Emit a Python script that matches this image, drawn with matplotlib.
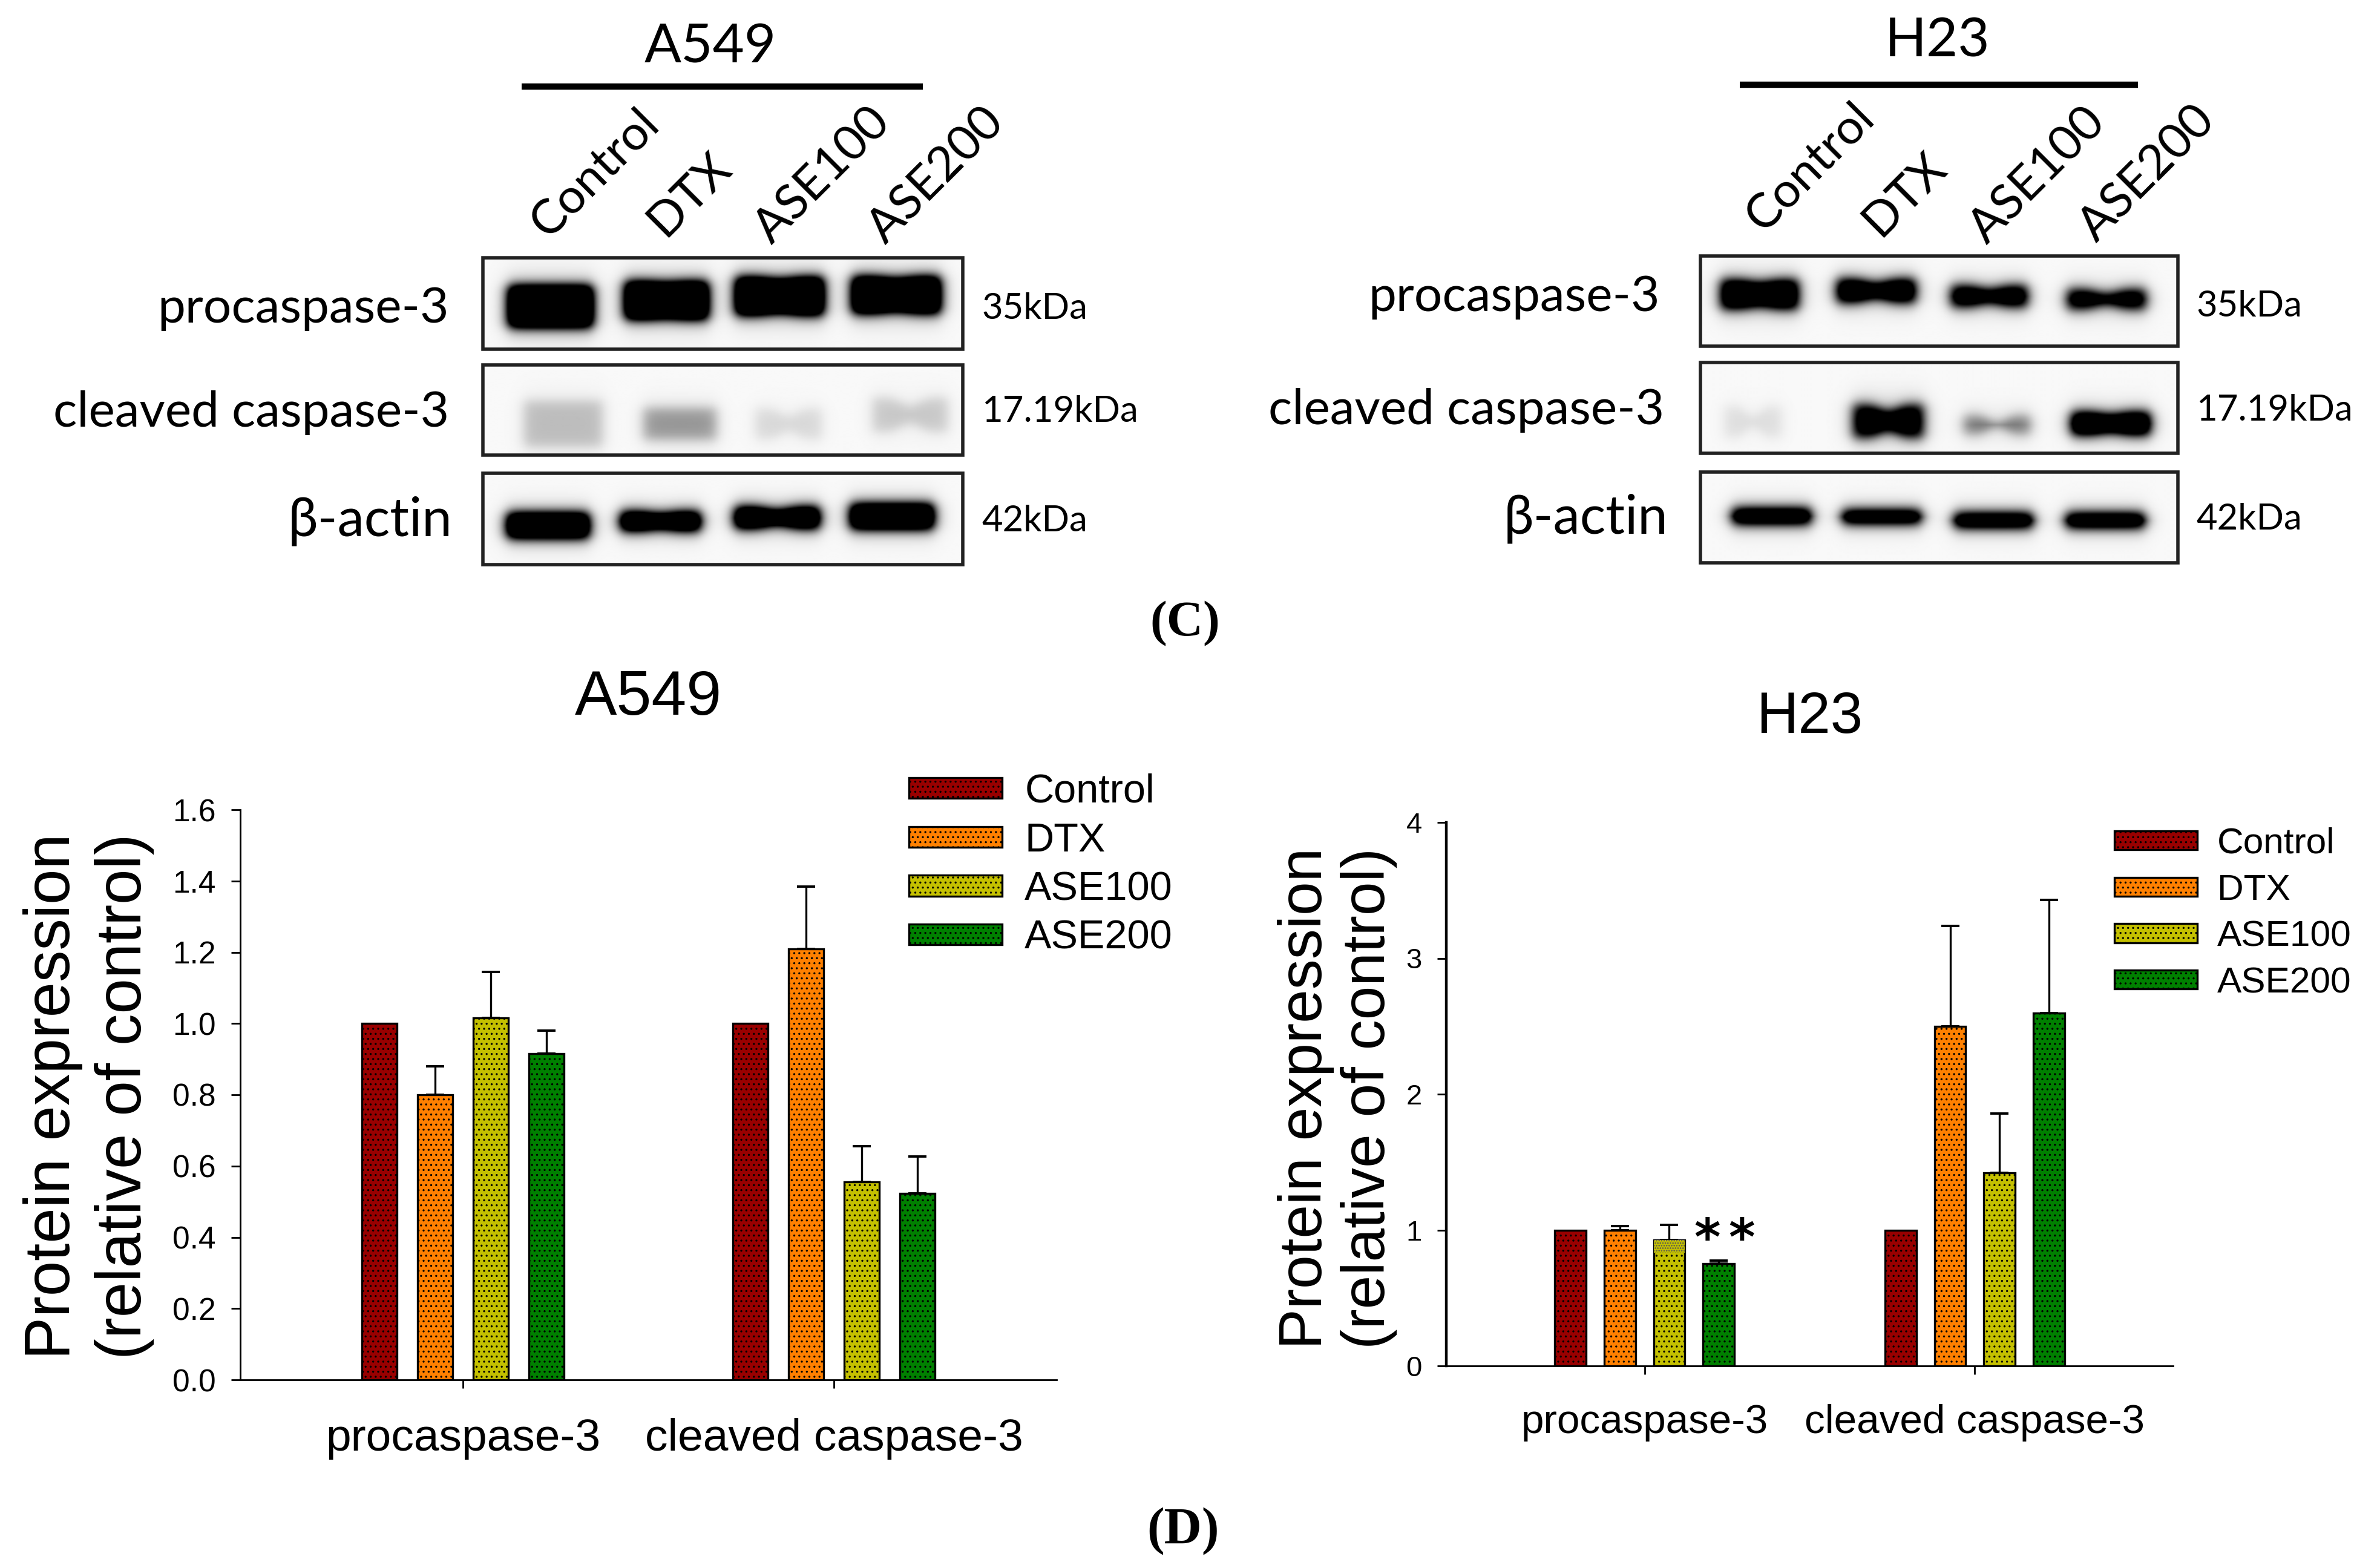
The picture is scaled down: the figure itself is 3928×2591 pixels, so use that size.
import numpy as np
import matplotlib
matplotlib.use('Agg')
import matplotlib.pyplot as plt
from matplotlib.patches import Rectangle

W, H = 3928, 2591

# bar chart data
groups = ['procaspase-3', 'cleaved caspase-3']
treatments = ['Control', 'DTX', 'ASE100', 'ASE200']
a549_pro = [1.0, 0.80, 1.015, 0.915]
a549_pro_err = [0, 0.08, 0.13, 0.065]
a549_clv = [1.0, 1.21, 0.555, 0.523]
a549_clv_err = [0, 0.175, 0.10, 0.103]
h23_pro = [1.0, 1.0, 0.927, 0.753]
h23_pro_err = [0, 0.03, 0.11, 0.022]
h23_clv = [1.0, 2.497, 1.42, 2.595]
h23_clv_err = [0, 0.743, 0.438, 0.835]
a549_ticks = [0.0, 0.2, 0.4, 0.6, 0.8, 1.0, 1.2, 1.4, 1.6]
h23_ticks = [0, 1, 2, 3, 4]
colors = ['#990000', '#ff8000', '#c4c000', '#008000']

# blot band darkness, by lane
a549_blot_pro = [2, 2, 2, 2]
a549_blot_clv = [0.22, 0.36, 0.12, 0.18]
a549_blot_act = [2, 2, 2, 2]
h23_blot_pro = [1.6, 1.6, 1.5, 1.4]
h23_blot_clv = [0.10, 1.3, 0.5, 1.8]
h23_blot_act = [1.8, 1.8, 1.8, 1.8]
weights = ['35kDa', '17.19kDa', '42kDa']
blot_names = ['procaspase-3', 'cleaved caspase-3', 'β-actin']

plt.rcParams['font.family'] = ['Liberation Sans', 'DejaVu Sans']
plt.rcParams['hatch.linewidth'] = 1.2

fig = plt.figure(figsize=(W / 100, H / 100), dpi=100, facecolor='white')
page = fig.add_axes([0, 0, 1, 1])
page.axis('off')


def band(img, xs, ys, s, xc, yc, hw, hh, waist=0.0):
    hh_x = hh * (1 - waist * np.exp(-((xs - xc) / (0.4 * hw)) ** 2))
    core = 1 / (1 + np.exp((np.abs(xs - xc) - hw) / 6)) / (1 + np.exp((np.abs(ys - yc) - hh_x) / 6))
    halo = 1 / (1 + np.exp((np.abs(xs - xc) - hw * 1.05) / 10)) / (1 + np.exp((np.abs(ys - yc) - hh * 1.7) / 12))
    return img + s * core + 0.1 * min(s, 1) * halo


def blot(x0, y0, x1, y1, strengths, shape):
    xs, ys = np.meshgrid(np.arange(x0, x1, 2.0), np.arange(y0, y1, 2.0))
    img = np.zeros_like(xs, dtype=float)
    for s, b in zip(strengths, shape):
        img = band(img, xs, ys, s, *b)
    page.imshow(0.975 * (1 - np.clip(img, 0, 1)), cmap='gray', vmin=0, vmax=1,
                extent=[x0, x1, y1, y0], aspect='auto', interpolation='bilinear')
    page.add_patch(Rectangle((x0, y0), x1 - x0, y1 - y0, fill=False, ec='#222222', lw=4))


blot(798, 426, 1591, 577, a549_blot_pro, [(909, 506, 70, 34), (1101, 496, 69, 31, 0.05), (1288, 489, 73, 31, 0.1), (1481, 487, 73, 30, 0.1)])
blot(798, 603, 1591, 752, a549_blot_clv, [(930, 700, 65, 38), (1123, 700, 60, 26), (1303, 700, 55, 25, 0.4), (1504, 685, 62, 28, 0.4)])
blot(798, 782, 1591, 933, a549_blot_act, [(905, 868, 68, 20), (1091, 861, 66, 15, 0.2), (1284, 855, 70, 17, 0.3), (1474, 853, 69, 20)])
blot(2810, 423, 3599, 572, h23_blot_pro, [(2907, 486, 64, 24, 0.15), (3100, 480, 65, 19, 0.3), (3287, 489, 63, 17, 0.3), (3481, 494, 65, 16, 0.4)])
blot(2810, 599, 3599, 749, h23_blot_clv, [(2896, 696, 47, 25, 0.5), (3120, 695, 58, 27, 0.3), (3300, 701, 55, 15, 0.7), (3488, 699, 65, 18, 0.2)])
blot(2810, 780, 3599, 930, h23_blot_act, [(2927, 852, 65, 12), (3109, 853, 65, 10), (3294, 859, 65, 11), (3479, 859, 65, 11)])

page.set_xlim(0, W)
page.set_ylim(H, 0)

# labels of the blots, Lato is the nearest thing to the Calibri in the figure
blot_font = ['Lato', 'DejaVu Sans']
page.text(1174, 103, 'A549', fontsize=65, family=blot_font, ha='center', va='baseline')
page.text(3202, 93, 'H23', fontsize=65, family=blot_font, ha='center', va='baseline')
page.plot([862, 1525], [143, 143], color='black', lw=7.5, solid_capstyle='butt')
page.plot([2875, 3533], [140, 140], color='black', lw=7.5, solid_capstyle='butt')
lane_anchor = [[(905, 396), (1099, 393), (1275, 406), (1463, 406)],
               [(2913, 386), (3107, 393), (3283, 406), (3464, 403)]]
for anchors in lane_anchor:
    for name, (x, y) in zip(treatments, anchors):
        page.text(x, y, name, fontsize=57.5, family=blot_font, rotation=45, rotation_mode='anchor', ha='left', va='baseline')
for name, x, y, size in zip(blot_names, [742, 742, 748], [510, 682, 861], [59, 59, 64]):
    page.text(x, y, name, fontsize=size, family=blot_font, ha='right', va='center')
for name, x, y, size in zip(blot_names, [2743, 2750, 2757], [491, 678, 857], [59, 59, 64]):
    page.text(x, y, name, fontsize=size, family=blot_font, ha='right', va='center')
for name, y in zip(weights, [510, 680, 861]):
    page.text(1622, y, name, fontsize=43, family=blot_font, ha='left', va='center')
for name, y in zip(weights, [506, 678, 858]):
    page.text(3629, y, name, fontsize=43, family=blot_font, ha='left', va='center')

serif = ['Liberation Serif', 'DejaVu Serif']
page.text(1958, 1050, '(C)', fontsize=60, family=serif, weight='bold', ha='center', va='baseline')
page.text(1955, 2550, '(D)', fontsize=62, family=serif, weight='bold', ha='center', va='baseline')


def bar_panel(box, pro, pro_err, clv, clv_err, ticks, fmt, tick_size, name_size, spine_lw, name_pad):
    x0, y0, x1, y1 = box
    ax = fig.add_axes([x0 / W, 1 - y1 / H, (x1 - x0) / W, (y1 - y0) / H])
    ax.patch.set_alpha(0)
    width = 0.095
    step = 0.15
    for i, name in enumerate(treatments):
        off = (i - 1.5) * step
        ax.bar([1 + off, 2 + off], [pro[i], clv[i]], width, color=colors[i], edgecolor='black',
               linewidth=2.4, hatch='..', label=name, zorder=2)
        for xc, v, e in [(1 + off, pro[i], pro_err[i]), (2 + off, clv[i], clv_err[i])]:
            if e > 0:
                ax.errorbar(xc, v, yerr=[[0], [e]], ecolor='black', elinewidth=2.4, capsize=11,
                            capthick=2.8, fmt='none', zorder=1)
    ax.set_xlim(0.4, 2.6)
    ax.set_ylim(ticks[0], ticks[-1])
    ax.set_xticks([1, 2])
    ax.set_xticklabels(groups, fontsize=name_size)
    ax.set_yticks(ticks)
    ax.set_yticklabels([fmt % t for t in ticks], fontsize=tick_size)
    ax.tick_params(axis='x', length=10, width=2, pad=name_pad)
    ax.tick_params(axis='y', length=11, width=2, pad=18)
    ax.spines['top'].set_visible(False)
    ax.spines['right'].set_visible(False)
    ax.spines['left'].set_linewidth(spine_lw)
    ax.spines['bottom'].set_linewidth(2)
    return ax


ax1 = bar_panel((397, 1338, 1746, 2280), a549_pro, a549_pro_err, a549_clv, a549_clv_err,
                a549_ticks, '%.1f', 37, 54, 2, 35)
ax2 = bar_panel((2390, 1359, 3591, 2257), h23_pro, h23_pro_err, h23_clv, h23_clv_err,
                h23_ticks, '%d', 34, 48.5, 3.2, 35)

ax1.legend(loc='upper left', bbox_to_anchor=(1502, 1278), bbox_transform=page.transData, frameon=False,
           fontsize=48, borderpad=0, borderaxespad=0, handlelength=2.31, handleheight=0.42,
           handletextpad=0.56, labelspacing=0.28)
ax2.legend(loc='upper left', bbox_to_anchor=(3494, 1367), bbox_transform=page.transData, frameon=False,
           fontsize=43.5, borderpad=0, borderaxespad=0, handlelength=2.26, handleheight=0.42,
           handletextpad=0.55, labelspacing=0.36)

# the odd patch on top of the ASE100 bar of H23
ax2.bar(1 + 0.5 * 0.15, 0.09, 0.095, bottom=0.835, color='#c4c000', hatch='....', edgecolor='#555555', linewidth=0, zorder=3)
ax2.text(1 + 0.5 * 0.15 + 0.115, 0.925, '*', fontsize=60, family=['DejaVu Sans'], weight='bold', ha='center', va='center')
ax2.text(1 + 0.5 * 0.15 + 0.22, 0.925, '*', fontsize=60, family=['DejaVu Sans'], weight='bold', ha='center', va='center')

page.text(115, 1812, 'Protein expression', fontsize=75.5, rotation=90, rotation_mode='anchor', ha='center', va='baseline')
page.text(233, 1812, '(relative of control)', fontsize=75.5, rotation=90, rotation_mode='anchor', ha='center', va='baseline')
page.text(1071, 1181, 'A549', fontsize=75, ha='center', va='baseline')
page.text(2184, 1815, 'Protein expression', fontsize=72, rotation=90, rotation_mode='anchor', ha='center', va='baseline')
page.text(2288, 1815, '(relative of control)', fontsize=72, rotation=90, rotation_mode='anchor', ha='center', va='baseline')
page.text(3008 - 18, 1211, 'H23', fontsize=69, ha='center', va='baseline')

fig.savefig('out.png', dpi=100)
